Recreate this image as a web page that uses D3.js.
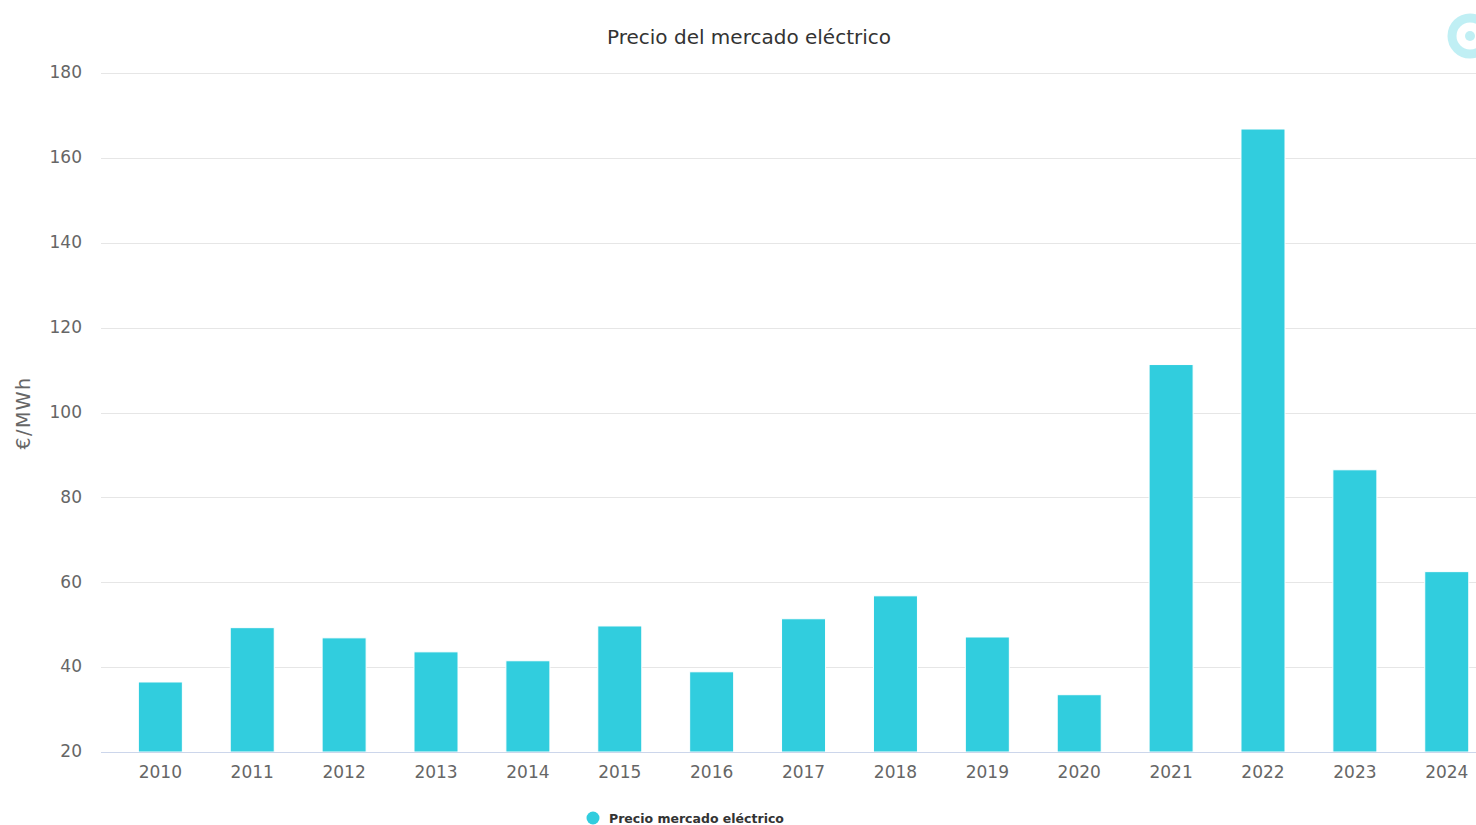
<!DOCTYPE html>
<html><head><meta charset="utf-8">
<script src="https://cdn.jsdelivr.net/npm/d3@7/dist/d3.min.js"></script>
<style>body{margin:0;background:#fff;overflow:hidden}svg{display:block;font-family:"DejaVu Sans",sans-serif}</style>
</head><body><svg id="c" width="1476" height="825"></svg>
<script>
const years = ["2010","2011","2012","2013","2014","2015","2016","2017","2018","2019","2020","2021","2022","2023","2024"];
const prices = [36.5,49.3,46.9,43.6,41.5,49.7,38.9,51.4,56.8,47.1,33.5,111.3,166.8,86.5,62.5];
const yTicks = [20,40,60,80,100,120,140,160,180];
const seriesName = "Precio mercado eléctrico";
const titleText = "Precio del mercado eléctrico";
const yTitle = "€/MWh";

(function(){
const svg = d3.select("#c");
const pLeft = 101, pBottom = 752, pTop = 73;
const x = d3.scaleBand().domain(years).range([114.4, 1492.7]).paddingInner(0.521).paddingOuter(0.2605);
const y = d3.scaleLinear().domain([20,180]).range([pBottom, pTop]);
const color = "#31CDDE";
const font = "DejaVu Sans, sans-serif";

// gridlines
svg.append("g").selectAll("line").data(yTicks.slice(1)).join("line")
  .attr("x1", pLeft).attr("x2", 1476).attr("y1", d=>Math.round(y(d))+0.5).attr("y2", d=>Math.round(y(d))+0.5)
  .attr("stroke", "#e6e6e6").attr("stroke-width", 1);

// y axis
const yAxis = svg.append("g").attr("transform", `translate(${pLeft},0)`)
  .call(d3.axisLeft(y).tickValues(yTicks).tickSize(0).tickPadding(19))
  .attr("font-family", font);
yAxis.select(".domain").remove();
yAxis.selectAll("text").attr("fill", "#666").attr("font-size", 17).attr("dy", "0.28em");

// bars
svg.append("g").selectAll("rect").data(years).join("rect")
  .attr("x", d=>x(d)).attr("width", x.bandwidth())
  .attr("y", (d,i)=>y(prices[i])).attr("height", (d,i)=>pBottom - y(prices[i]))
  .attr("fill", color).attr("stroke", "#fff").attr("stroke-width", 1);

// x axis
const xAxis = svg.append("g").attr("transform", `translate(0,${pBottom})`)
  .call(d3.axisBottom(x).tickSize(0).tickPadding(14))
  .attr("font-family", font);
xAxis.select(".domain").attr("stroke", "#ccd6eb").attr("d", `M${pLeft},0.5H1476`);
xAxis.selectAll("text").attr("fill", "#666").attr("font-size", 17);

// title
svg.append("text").attr("x", 749).attr("y", 44).attr("text-anchor", "middle")
  .attr("fill", "#333").attr("font-size", 20).text(titleText);

// y title
svg.append("text").attr("transform", "translate(30,413) rotate(-90)").attr("text-anchor", "middle")
  .attr("fill", "#666").attr("font-size", 19).attr("letter-spacing", 1.5).text(yTitle);

// legend
svg.append("circle").attr("cx", 593).attr("cy", 818).attr("r", 6.5).attr("fill", color);
svg.append("text").attr("x", 609).attr("y", 823).attr("fill", "#333").attr("font-size", 12.5)
  .attr("font-weight", "bold").text(seriesName);

// logo (decorative)
const logo = svg.append("g").attr("transform", "translate(1470,36)").attr("opacity", 0.3);
logo.append("circle").attr("r", 18).attr("fill", "none").attr("stroke", color).attr("stroke-width", 9);
logo.append("circle").attr("r", 5).attr("fill", color);
})();
</script></body></html>
